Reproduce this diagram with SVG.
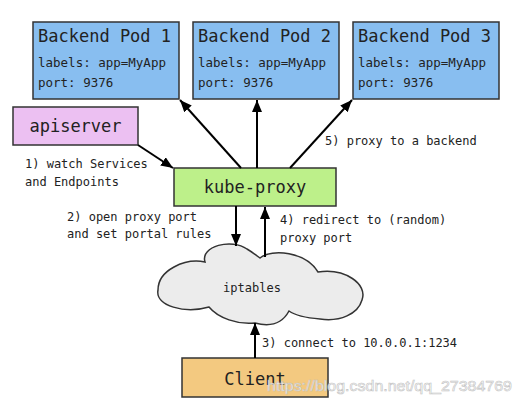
<svg xmlns="http://www.w3.org/2000/svg" width="521" height="403" viewBox="0 0 521 403">
<defs>
<marker id="ah" viewBox="0 0 12 10" refX="12" refY="5" markerWidth="12" markerHeight="10" markerUnits="userSpaceOnUse" orient="auto">
<path d="M0,0 L12,5 L0,10 Z" fill="#000"/>
</marker>
</defs>
<style>
.box{stroke:#333;stroke-width:1.5}
.mono{font-family:"DejaVu Sans Mono","Liberation Mono",monospace;fill:#222}
.big{font-size:17px}
.sm{font-size:12.5px}
.lbl{font-size:12px}
.conn{stroke:#000;stroke-width:2;fill:none;marker-end:url(#ah)}
</style>
<rect width="521" height="403" fill="#fff"/>
<g id="pod1">
<rect class="box" x="33" y="22" width="146" height="77" fill="#88bef0"/>
<text class="mono big" x="38" y="42">Backend Pod 1</text>
<text class="mono sm" x="38" y="67">labels: app=MyApp</text>
<text class="mono sm" x="38" y="87">port: 9376</text>
</g>
<g id="pod2">
<rect class="box" x="193" y="22" width="146" height="77" fill="#88bef0"/>
<text class="mono big" x="198" y="42">Backend Pod 2</text>
<text class="mono sm" x="198" y="67">labels: app=MyApp</text>
<text class="mono sm" x="198" y="87">port: 9376</text>
</g>
<g id="pod3">
<rect class="box" x="353" y="22" width="146" height="77" fill="#88bef0"/>
<text class="mono big" x="358" y="42">Backend Pod 3</text>
<text class="mono sm" x="358" y="67">labels: app=MyApp</text>
<text class="mono sm" x="358" y="87">port: 9376</text>
</g>
<g id="apiserver">
<rect class="box" x="13" y="107" width="125" height="38" fill="#ecc0f2"/>
<text class="mono big" x="75.5" y="132" text-anchor="middle">apiserver</text>
</g>
<g id="kube-proxy">
<rect class="box" x="174" y="168" width="162" height="38" fill="#bdf08a"/>
<text class="mono big" x="255" y="193" text-anchor="middle">kube-proxy</text>
</g>
<g id="iptables">
<path class="box" fill="#ececec" d="M205,262 C200,246 232,238 247,249 C252,252 256,255 260,258 C272,248 306,252 318,272 C345,268 368,284 362,300 C358,314 340,322 320,319 C308,318 296,316 289,311 C282,324 270,327 255,323 C238,325 218,318 209,307 C185,314 155,306 158,290 C158,270 185,258 205,262 Z"/>
<text class="mono lbl" x="252" y="292" text-anchor="middle">iptables</text>
</g>
<g id="client">
<rect class="box" x="182" y="358" width="146" height="39" fill="#f3c980"/>
<text class="mono big" x="255" y="385" text-anchor="middle">Client</text>
</g>
<g id="connectors">
<line class="conn" x1="241" y1="168" x2="180" y2="100"/>
<line class="conn" x1="257" y1="168" x2="257" y2="100"/>
<line class="conn" x1="290" y1="168" x2="352" y2="100"/>
<line class="conn" x1="138" y1="145" x2="173" y2="168"/>
<line class="conn" x1="236" y1="206" x2="236" y2="246"/>
<line class="conn" x1="265" y1="257" x2="265" y2="207"/>
<line class="conn" x1="255" y1="358" x2="255" y2="323"/>
</g>
<g id="labels">
<text class="mono lbl" x="25" y="168">1) watch Services</text>
<text class="mono lbl" x="25" y="186">and Endpoints</text>
<text class="mono lbl" x="325" y="145">5) proxy to a backend</text>
<text class="mono lbl" x="67" y="221">2) open proxy port</text>
<text class="mono lbl" x="67" y="238">and set portal rules</text>
<text class="mono lbl" x="280" y="224">4) redirect to (random)</text>
<text class="mono lbl" x="280" y="242">proxy port</text>
<text class="mono lbl" x="262" y="347">3) connect to 10.0.0.1:1234</text>
</g>
<text x="267" y="391" font-family="Liberation Sans,Arial,sans-serif" font-size="15" fill="#fff" stroke="#bdbdbd" stroke-width="0.6" textLength="245" lengthAdjust="spacingAndGlyphs" opacity="0.9">https://blog.csdn.net/qq_27384769</text>
</svg>
